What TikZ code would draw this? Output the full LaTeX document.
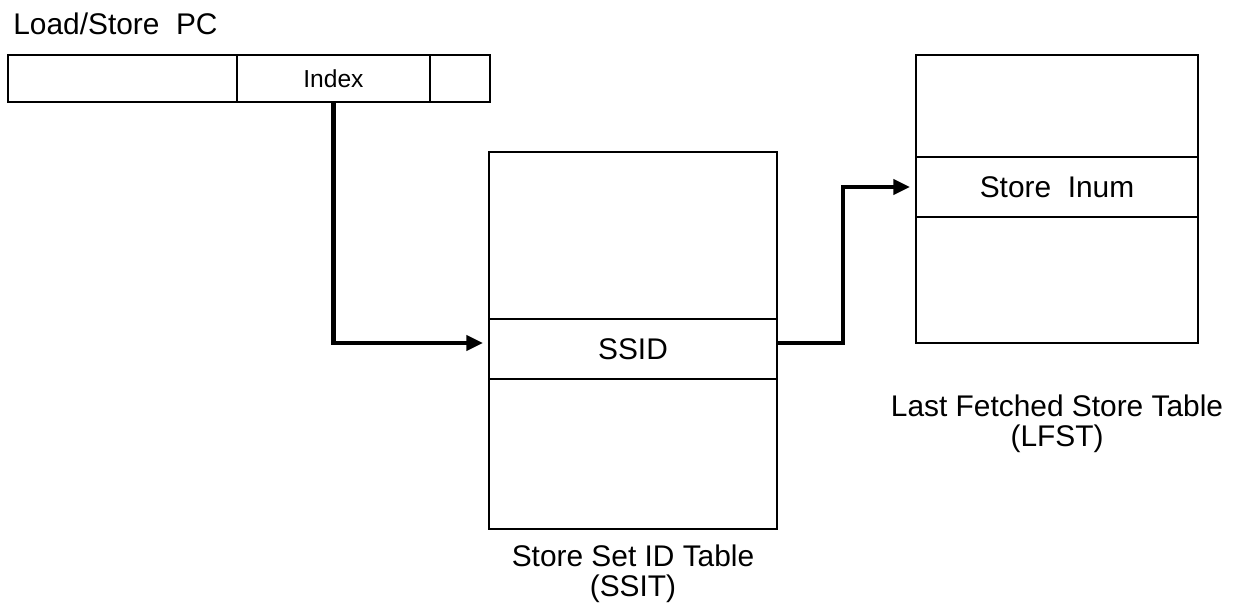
\documentclass[tikz,border=0pt]{standalone}
\usepackage{fontspec}
\setmainfont{Liberation Sans}
\usetikzlibrary{arrows.meta,positioning}

\begin{document}
\begin{tikzpicture}[
  x=0.02cm, y=-0.02cm,
  node distance=0pt,
  field/.style={draw,line width=1.5pt,outer sep=0pt,inner sep=0pt,minimum height=0.94cm,font=\fontsize{14}{16}\selectfont},
  tbl/.style={draw,line width=1.5pt,outer sep=0pt,inner sep=0pt},
  entry/.style={draw,line width=1.5pt,outer sep=0pt,inner sep=0pt,minimum height=1.2cm,font=\fontsize{17}{20}\selectfont},
  caption/.style={align=center,inner sep=0pt,font=\fontsize{17}{17}\selectfont},
  link/.style={-{Triangle[length=9.5pt,width=8.5pt]},line width=2.4pt,shorten >=0.12cm}
]
\useasboundingbox (0,0) rectangle (1247,608);
% load/store PC register
\node[anchor=base west,inner sep=0pt,font=\fontsize{17}{20}\selectfont] (pcLabel) at (13,35) {Load/Store\ \ PC};
\node[field,minimum width=4.58cm] (pcHigh) at (122.5,78.5) {};
\node[field,minimum width=3.86cm,right=of pcHigh] (pcIndex) {Index};
\node[field,minimum width=1.2cm,right=of pcIndex] (pcLow) {};
% store set ID table
\node[tbl,minimum width=5.76cm,minimum height=7.54cm] (ssit) at (633,340.5) {};
\node[entry,minimum width=5.76cm,below=3.34cm of ssit.north] (ssid) {SSID};
\node[caption,below=0.32cm of ssit.south] (ssitCap) {Store Set ID Table\\(SSIT)};
% last fetched store table
\node[tbl,minimum width=5.64cm,minimum height=5.76cm] (lfst) at (1057,199) {};
\node[entry,minimum width=5.64cm,below=2.04cm of lfst.north] (inum) {Store\ \ Inum};
\node[caption,below=1.04cm of lfst.south] (lfstCap) {Last Fetched Store Table\\(LFST)};
% connections
\draw[link] (pcIndex.south) |- ([yshift=0.12cm]ssid.west);
\draw[link] ([yshift=0.12cm]ssid.east) -- ++(66,0) |- (inum.west);
\end{tikzpicture}
\end{document}
